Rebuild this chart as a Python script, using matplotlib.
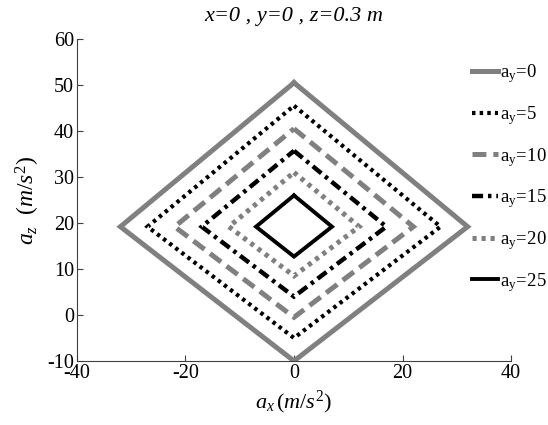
from typing import List, Tuple

import matplotlib as mpl
mpl.use('Agg')
import matplotlib.pyplot as plt


# font setup: serif, Times-like, like the original MATLAB figure
plt.rcParams['font.family'] = 'Liberation Serif'
plt.rcParams['mathtext.fontset'] = 'custom'
plt.rcParams['mathtext.rm'] = 'Liberation Serif'
plt.rcParams['mathtext.it'] = 'Liberation Serif:italic'
plt.rcParams['lines.scale_dashes'] = False
plt.rcParams['axes.unicode_minus'] = False


# data: one diamond per a_y value
AY_VALUES = [0, 5, 10, 15, 20, 25]
AZ_TOP = [50.5, 45.5, 40.5, 35.7, 31.0, 26.0]
AZ_BOTTOM = [-10.0, -5.0, -0.5, 4.0, 8.5, 12.7]
AZ_MID = [19.2, 19.2, 19.2, 19.2, 19.2, 19.2]
AX_HALF = [32.0, 27.0, 22.0, 17.0, 12.0, 7.0]

X_TICKS = [-40, -20, 0, 20, 40]
Y_TICKS = [-10, 0, 10, 20, 30, 40, 50, 60]

GRAY = '#808080'
STYLES = [
    dict(color=GRAY, lw=3.6, ls='-'),
    dict(color='black', lw=3.0, dashes=(2.5, 3.0)),
    dict(color=GRAY, lw=3.6, dashes=(10, 5)),
    dict(color='black', lw=3.2, dashes=(8, 3.5, 2.5, 3.5)),
    dict(color=GRAY, lw=3.6, dashes=(3.0, 3.5)),
    dict(color='black', lw=2.8, ls='-'),
]


def diamond(top: float, bottom: float, mid: float, half: float) -> Tuple[List[float], List[float]]:
    """closed diamond path: top -> right -> bottom -> left -> top"""
    xs = [0, half, 0, -half, 0]
    ys = [top, mid, bottom, mid, top]
    return xs, ys


fig = plt.figure(figsize=(5.48, 4.25), dpi=100)
ax = fig.add_axes([0.1405, 0.1506, 0.792, 0.7576])

for ay, top, bot, mid, half, style in zip(AY_VALUES, AZ_TOP, AZ_BOTTOM, AZ_MID, AX_HALF, STYLES):
    xs, ys = diamond(top, bot, mid, half)
    ax.plot(xs, ys, label=r'$\mathrm{a_y\!=\!%d}$' % ay,
            solid_joinstyle='miter', dash_joinstyle='miter', **style)

ax.set_xlim(-40, 40)
ax.set_ylim(-10, 60)
ax.set_xticks(X_TICKS)
ax.set_yticks(Y_TICKS)
ax.tick_params(direction='in', length=4, labelsize=14.5, color='#404040', pad=2)
for side in ['top', 'right']:
    ax.spines[side].set_visible(False)
for side in ['left', 'bottom']:
    ax.spines[side].set_color('#404040')

ax.set_title('x=0 , y=0 , z=0.3 m', fontsize=16, style='italic', pad=13)
ax.set_xlabel(r'$a_x\,(m/s^2)$', fontsize=16, labelpad=4)
ax.set_ylabel(r'$a_z\ \ (m/s^2)$', fontsize=17, labelpad=4)

# legend sits over the right edge of the axes, no frame
leg = ax.legend(loc='upper left', bbox_to_anchor=(0.862, 0.853), bbox_transform=fig.transFigure,
                frameon=False, fontsize=13.5, handlelength=1.35, handletextpad=0.1,
                labelspacing=1.0, borderaxespad=0, borderpad=0)

fig.savefig('out.png', dpi=100)
